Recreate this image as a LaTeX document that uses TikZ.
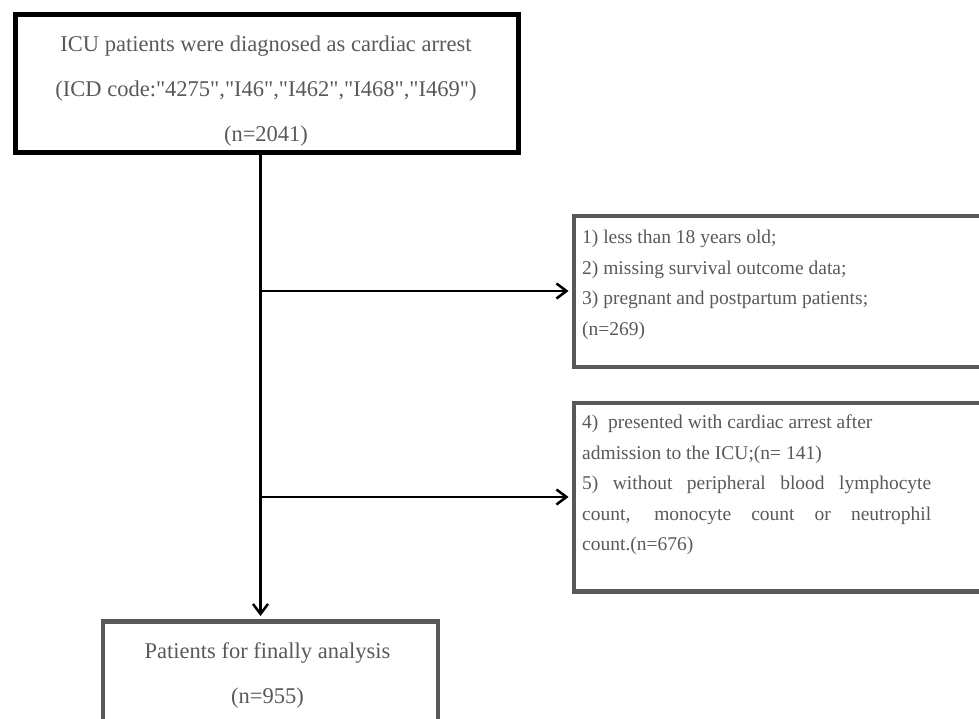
\documentclass[tikz,border=0pt]{standalone}
\usepackage{fontspec}
\setmainfont{Liberation Serif}[Ligatures=TeXOff]
\usepackage{xcolor}
\definecolor{boxgray}{RGB}{89,89,89}
\usetikzlibrary{arrows.meta, positioning}

\tikzset{
  flowbox/.style={draw=boxgray, line width=4.5pt, inner sep=0pt, anchor=north west},
  flowtext/.style={text=boxgray, inner sep=0pt},
  bigtext/.style={font=\fontsize{22.5}{45}\selectfont},
  smalltext/.style={font=\fontsize{19.5}{30.5}\selectfont},
  flowarrow/.style={line width=2.5pt, -{Straight Barb[length=10pt,width=15pt]}, shorten >=3pt},
}

\begin{document}
\begin{tikzpicture}[x=1pt, y=-1pt]
  \clip (0,0) rectangle (979,719);

  % Cohort
  \node[flowbox, draw=black, line width=5pt, minimum width=503pt, minimum height=138pt] (cohort) at (12.5,12.5) {};
  \node[flowtext, bigtext, anchor=north, align=center] (cohort-txt) at (266,36)
    {ICU patients were diagnosed as cardiac arrest\\(ICD code:"4275","I46","I462","I468","I469")\\(n=2041)};

  % Exclusions
  \node[flowbox, minimum width=420pt, minimum height=150.5pt] (excl1) at (571.5,214) {};
  \node[flowtext, smalltext, anchor=north west, align=left] (excl1-txt) at (582,230)
    {1) less than 18 years old;\\2) missing survival outcome data;\\3) pregnant and postpartum patients;\\(n=269)};

  \node[flowbox, minimum width=420pt, minimum height=188.5pt] (excl2) at (571.5,400.5) {};
  \node[flowtext, smalltext, anchor=north west, align=left] (excl2-txt) at (582,414.7)
    {4)\ \ presented with cardiac arrest after\\admission to the ICU;(n= 141)\\\makebox[349pt][s]{5) without peripheral blood lymphocyte}\\\makebox[349pt][s]{count, monocyte count or neutrophil}\\count.(n=676)};

  % Final
  \node[flowbox, minimum width=334.7pt, minimum height=120pt] (final) at (100.8,619) {};
  \node[flowtext, bigtext, anchor=north, align=center] (final-txt) at (267.5,642.6)
    {Patients for finally analysis\\(n=955)};

  % Arrows
  \coordinate (trunk) at (260.5,0);
  \coordinate (split1) at (260.5,291);
  \coordinate (split2) at (260.5,497);
  \draw[flowarrow] (trunk |- cohort.south) -- (trunk |- final.north);
  \draw[flowarrow] (split1) -- (split1 -| excl1.west);
  \draw[flowarrow] (split2) -- (split2 -| excl2.west);
\end{tikzpicture}
\end{document}
